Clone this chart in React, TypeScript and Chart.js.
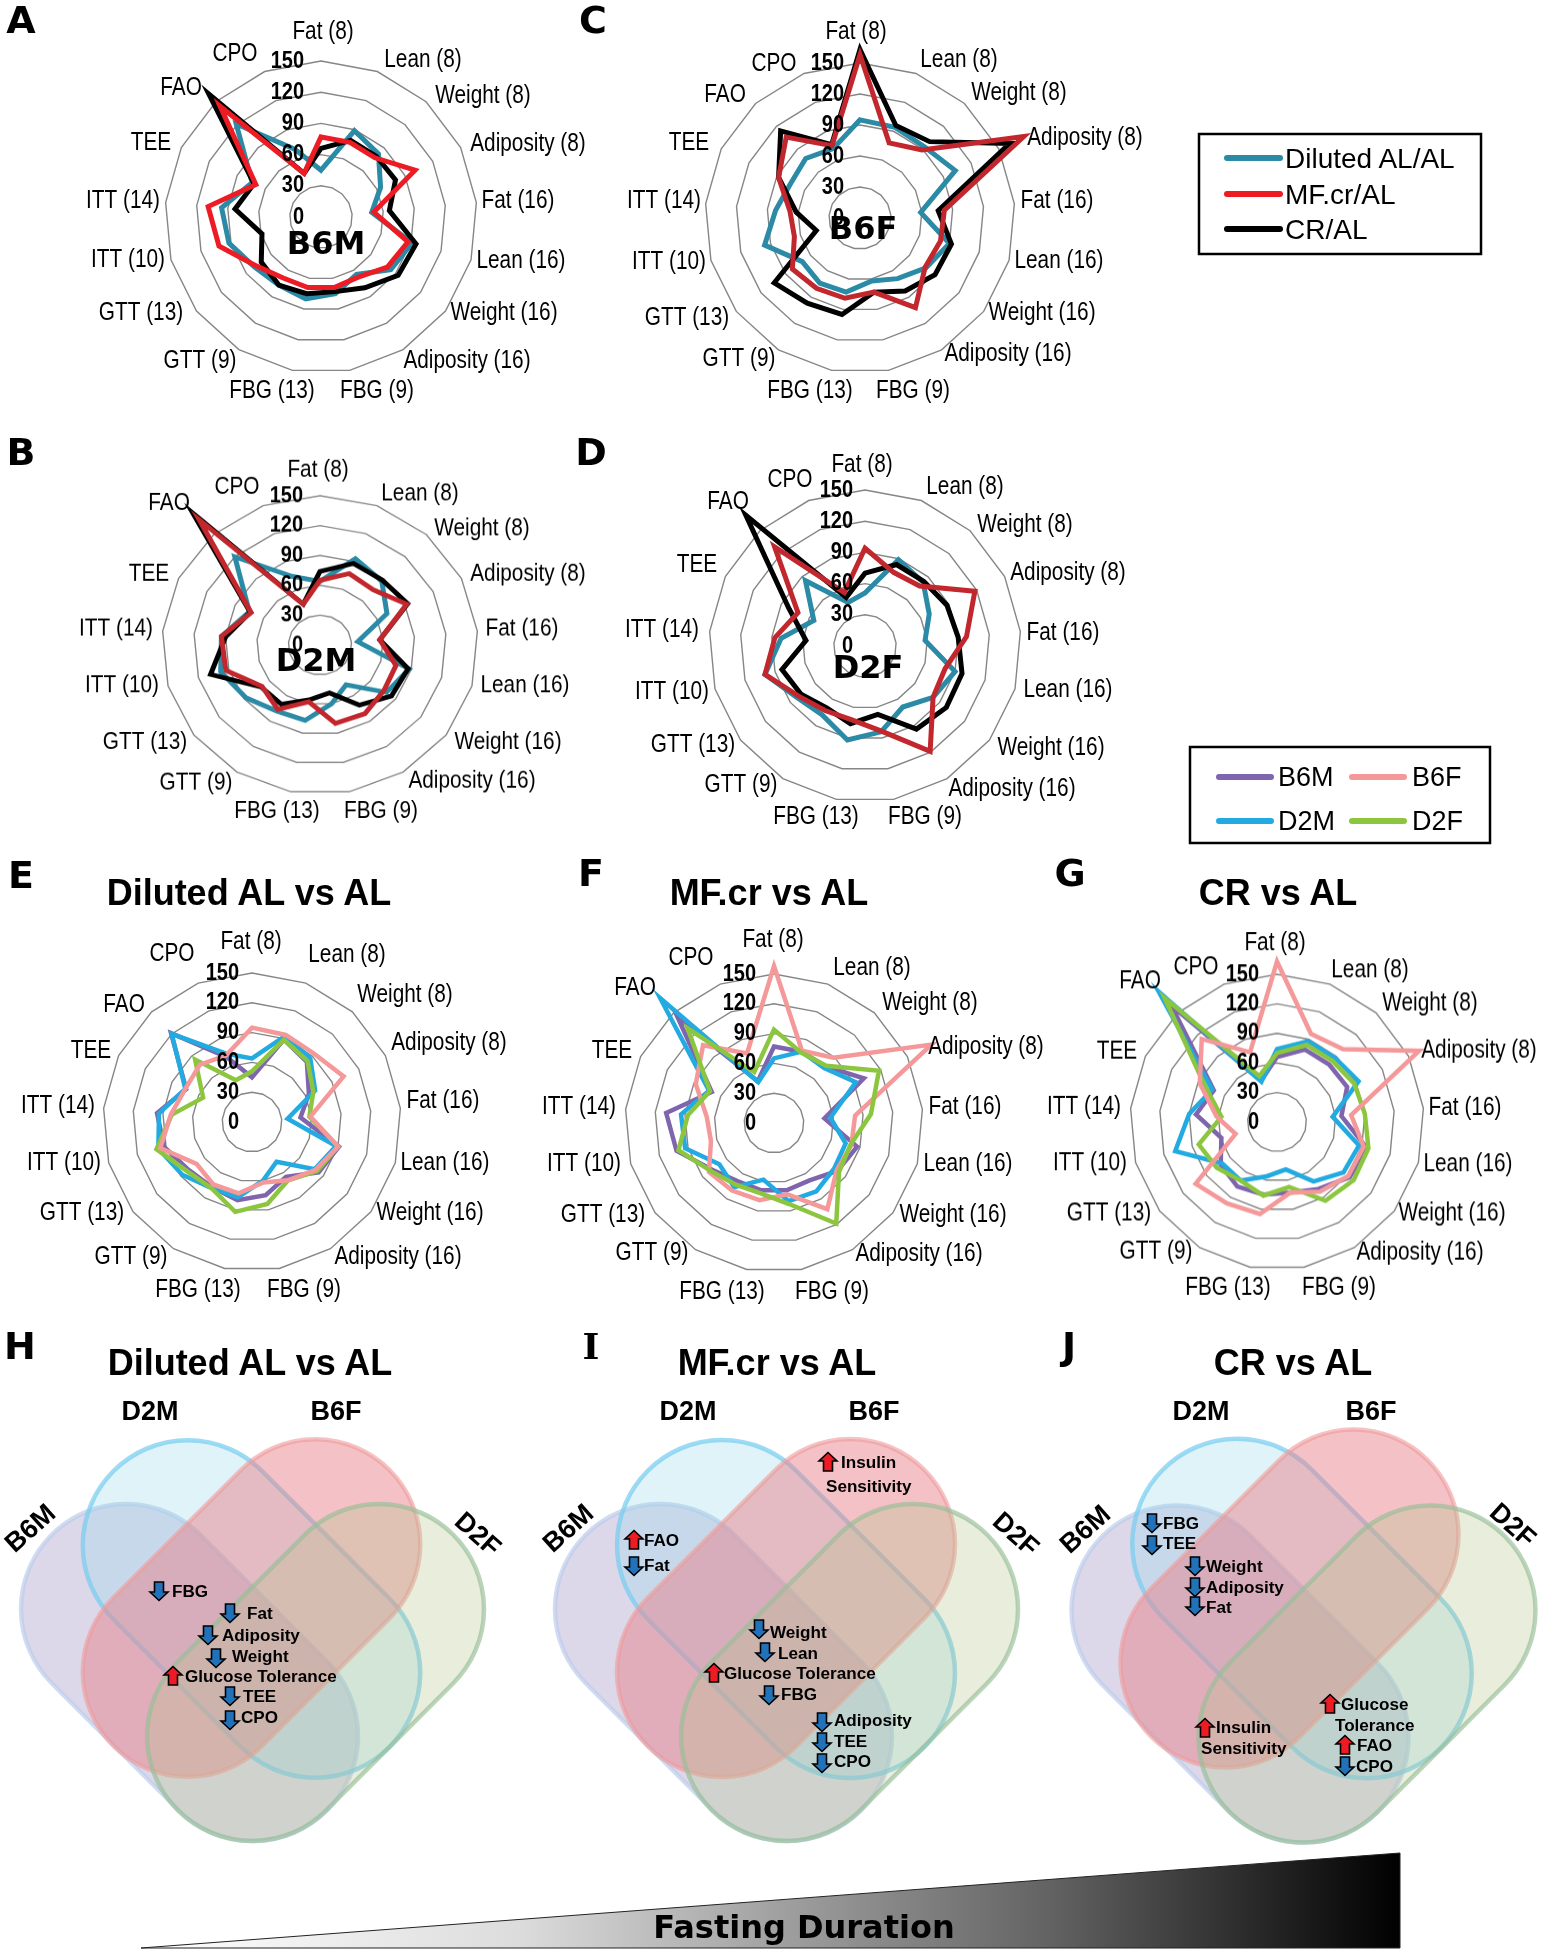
import React, { useEffect, useRef } from "react";
import { Chart, registerables } from "chart.js";

Chart.register(...registerables);

const categories = ["Fat (8)", "Lean (8)", "Weight (8)", "Adiposity (8)", "Fat (16)", "Lean (16)", "Weight (16)", "Adiposity (16)", "FBG (9)", "FBG (13)", "GTT (9)", "GTT (13)", "ITT (10)", "ITT (14)", "TEE", "FAO", "CPO"];
const tickValues = [0, 30, 60, 90, 120, 150];

const dilutedB6M = [45, 89, 82, 64, 49, 91, 84, 65, 75, 80, 77, 80, 92, 96, 74, 121, 70];
const mfB6M = [77, 77, 77, 101, 51, 87, 80, 68, 69, 69, 69, 78, 102, 109, 70, 144, 45];
const crB6M = [66, 79, 79, 80, 66, 95, 93, 80, 73, 75, 77, 72, 59, 83, 72, 160, 45];

const dilutedB6F = [95, 94, 93, 103, 59, 90, 80, 69, 62, 73, 74, 70, 96, 82, 75, 78, 72];
const mfB6F = [158, 78, 89, 177, 82, 81, 79, 102, 73, 79, 80, 82, 66, 68, 88, 106, 75];
const crB6F = [163, 96, 100, 162, 76, 92, 91, 83, 73, 95, 97, 104, 44, 62, 88, 114, 76];

const dilutedD2M = [64, 93, 87, 71, 36, 88, 79, 47, 60, 77, 78, 88, 98, 94, 75, 120, 74];
const mfD2M = [65, 77, 75, 92, 57, 75, 76, 81, 80, 58, 76, 69, 93, 94, 73, 170, 44];
const crD2M = [74, 88, 88, 93, 57, 87, 85, 71, 49, 56, 70, 70, 108, 90, 74, 179, 44];

const dilutedD2F = [51, 89, 83, 69, 58, 90, 82, 69, 84, 92, 78, 82, 100, 81, 55, 85, 45];
const mfD2F = [94, 76, 78, 118, 98, 80, 82, 119, 83, 72, 73, 80, 100, 87, 72, 129, 55];
const crD2F = [70, 84, 84, 88, 90, 97, 98, 94, 67, 76, 70, 77, 83, 57, 82, 170, 50];

const TEAL = "#2b8aa5", RED_A = "#ed1c24", RED = "#c1272d", BLACK = "#000000";
const PURPLE = "#7f65ad", PINK = "#f4989a", BLUE = "#22aae1", GREEN = "#8cc63f";

type Series = { label: string; data: number[]; color: string };
type Panel = {
  key: string; cx: number; cy: number; r: number; sy: number; tickDx: number; lineWidth: number;
  series: Series[]; labelAt: number[][];
};

// Label centres on the page, in the order of `categories`.
const labelsA = [[323, 32], [423, 60], [483, 96], [528, 144], [518, 201], [521, 261], [504, 313], [467, 361], [377, 391], [272, 391], [200, 361], [141, 313], [128, 260], [123, 201], [151, 143], [181, 88], [235, 54]];
const labelsC = [[856, 32], [959, 60], [1019, 93], [1085, 138], [1057, 201], [1059, 261], [1042, 313], [1008, 354], [913, 391], [810, 391], [739, 359], [687, 318], [669, 262], [664, 201], [689, 143], [725, 95], [774, 64]];
const labelsB = [[318, 470], [420, 494], [482, 529], [528, 574], [522, 629], [525, 686], [508, 742], [472, 781], [381, 811], [277, 811], [196, 783], [145, 742], [122, 686], [116, 629], [149, 574], [169, 503], [237, 487]];
const labelsD = [[862, 465], [965, 487], [1025, 525], [1068, 573], [1063, 633], [1068, 690], [1051, 748], [1012, 789], [925, 817], [816, 817], [741, 785], [693, 745], [672, 692], [662, 630], [697, 565], [728, 502], [790, 480]];
const labelsE = [[251, 942], [347, 955], [405, 995], [449, 1043], [443, 1101], [445, 1163], [430, 1213], [398, 1257], [304, 1290], [198, 1290], [131, 1257], [82, 1213], [64, 1163], [58, 1106], [91, 1051], [124, 1005], [172, 954]];
const labelsF = [[773, 940], [872, 968], [930, 1003], [986, 1047], [965, 1107], [968, 1164], [953, 1215], [919, 1254], [832, 1292], [722, 1292], [652, 1253], [603, 1215], [584, 1164], [579, 1107], [612, 1051], [635, 988], [691, 958]];
const labelsG = [[1275, 943], [1370, 970], [1430, 1004], [1479, 1051], [1465, 1108], [1468, 1164], [1452, 1214], [1420, 1253], [1339, 1288], [1228, 1288], [1156, 1252], [1109, 1214], [1090, 1163], [1084, 1107], [1117, 1052], [1140, 981], [1196, 967]];

const trio = (d: number[], c: number[], m: number[], mc: string): Series[] => [
  { label: "Diluted AL/AL", data: d, color: TEAL },
  { label: "CR/AL", data: c, color: BLACK },
  { label: "MF.cr/AL", data: m, color: mc },
];

const panels: Panel[] = [
  { key: "A", cx: 321, cy: 217, r: 156, sy: 1, tickDx: -17, lineWidth: 5, series: trio(dilutedB6M, crB6M, mfB6M, RED_A), labelAt: labelsA },
  { key: "C", cx: 860, cy: 218, r: 155, sy: 1, tickDx: -16, lineWidth: 5, series: trio(dilutedB6F, crB6F, mfB6F, RED), labelAt: labelsC },
  { key: "B", cx: 320, cy: 645, r: 158, sy: 0.945, tickDx: -17, lineWidth: 5, series: trio(dilutedD2M, crD2M, mfD2M, RED), labelAt: labelsB },
  { key: "D", cx: 865, cy: 646, r: 156, sy: 1, tickDx: -12, lineWidth: 5, series: trio(dilutedD2F, crD2F, mfD2F, RED), labelAt: labelsD },
  { key: "E", cx: 252, cy: 1122, r: 149, sy: 1, tickDx: -13, lineWidth: 4.5, labelAt: labelsE, series: [
    { label: "B6M", data: dilutedB6M, color: PURPLE }, { label: "D2M", data: dilutedD2M, color: BLUE },
    { label: "D2F", data: dilutedD2F, color: GREEN }, { label: "B6F", data: dilutedB6F, color: PINK } ] },
  { key: "F", cx: 774, cy: 1123, r: 149, sy: 1, tickDx: -18, lineWidth: 4.5, labelAt: labelsF, series: [
    { label: "B6M", data: mfB6M, color: PURPLE }, { label: "D2M", data: mfD2M, color: BLUE },
    { label: "B6F", data: mfB6F, color: PINK }, { label: "D2F", data: mfD2F, color: GREEN } ] },
  { key: "G", cx: 1277, cy: 1122, r: 147, sy: 1.005, tickDx: -18, lineWidth: 4.5, labelAt: labelsG, series: [
    { label: "B6M", data: crB6M, color: PURPLE }, { label: "D2M", data: crD2M, color: BLUE },
    { label: "D2F", data: crD2F, color: GREEN }, { label: "B6F", data: crB6F, color: PINK } ] },
];

const HALF = 290;
const TEXT_STRETCH = 1.2;

function stretchedText(ctx: CanvasRenderingContext2D, text: string, x: number, y: number) {
  ctx.save();
  ctx.translate(x, y);
  ctx.scale(1, TEXT_STRETCH);
  ctx.fillText(text, 0, 0);
  ctx.restore();
}

function Radar({ p }: { p: Panel }) {
  const ref = useRef<HTMLCanvasElement>(null);
  useEffect(() => {
    const left = p.cx - HALF;
    const textPlugin = {
      id: "radarText",
      afterDatasetsDraw(chart: any) {
        const { ctx } = chart;
        const scale = chart.scales.r;
        ctx.save();
        ctx.fillStyle = "#000";
        ctx.textBaseline = "middle";
        ctx.font = "bold 20px 'Liberation Sans'";
        ctx.textAlign = "right";
        tickValues.forEach((v) => {
          const y = scale.getPointPositionForValue(0, v).y;
          stretchedText(ctx, String(v), scale.xCenter + p.tickDx, y);
        });
        ctx.font = "20.8px 'Liberation Sans'";
        ctx.textAlign = "center";
        categories.forEach((c, i) => {
          const [ax, ay] = p.labelAt[i];
          stretchedText(ctx, c, ax - left, HALF + (ay - p.cy) / p.sy);
        });
        ctx.restore();
      },
    };
    const chart = new Chart(ref.current!, {
      type: "radar",
      data: {
        labels: categories,
        datasets: [...p.series].reverse().map((s) => ({
          label: s.label,
          data: s.data,
          borderColor: s.color,
          backgroundColor: "transparent",
          borderWidth: p.lineWidth,
          borderJoinStyle: "miter" as const,
          pointRadius: 0,
          tension: 0,
          fill: false,
          clip: false as any,
        })),
      },
      options: {
        animation: false,
        responsive: false,
        maintainAspectRatio: false,
        layout: { padding: HALF - p.r },
        plugins: { legend: { display: false }, tooltip: { enabled: false } },
        scales: {
          r: {
            min: 0,
            max: 150,
            ticks: { display: false, stepSize: 30 },
            grid: { color: "#868686", lineWidth: 1.4 },
            angleLines: { display: false },
            pointLabels: { display: false },
          },
        },
      },
      plugins: [textPlugin],
    } as any);
    return () => chart.destroy();
  }, [p]);
  return (
    <div style={{ position: "absolute", left: p.cx - HALF, top: p.cy - HALF, width: HALF * 2, height: HALF * 2, transform: `scaleY(${p.sy})`, transformOrigin: "center center" }}>
      <canvas ref={ref} width={HALF * 2} height={HALF * 2} />
    </div>
  );
}

const SANS = "'Liberation Sans', Arial, sans-serif";
const DEJA = "'DejaVu Sans', sans-serif";

const panelLetters: [string, number, number][] = [
  ["A", 21, 20], ["C", 593, 20], ["B", 21, 452], ["D", 591, 452], ["E", 21, 875], ["F", 591, 873], ["G", 1070, 873], ["H", 20, 1346], ["J", 1069, 1346],
];
const centreNames: [string, number, number][] = [["B6M", 326, 243], ["B6F", 863, 228], ["D2M", 316, 660], ["D2F", 868, 667]];
const titles: [string, number, number][] = [
  ["Diluted AL vs AL", 249, 892], ["MF.cr vs AL", 769, 892], ["CR vs AL", 1278, 892],
  ["Diluted AL vs AL", 250, 1362], ["MF.cr vs AL", 777, 1362], ["CR vs AL", 1293, 1362],
];

type Box = [number, number, number, number];
type Venn = { b6m: Box; d2m: Box; b6f: Box; d2f: Box; names: [string, number, number, number][] };
const venns: Venn[] = [
  { b6m: [19, 1502, 360, 1843], d2m: [81, 1438, 422, 1780], b6f: [81, 1437, 422, 1779], d2f: [145, 1502, 486, 1843],
    names: [["D2M", 150, 1411, 0], ["B6F", 336, 1411, 0], ["B6M", 30, 1528, -42], ["D2F", 478, 1534, 42]] },
  { b6m: [553, 1502, 894, 1843], d2m: [615, 1438, 957, 1780], b6f: [615, 1437, 957, 1779], d2f: [679, 1502, 1020, 1843],
    names: [["D2M", 688, 1411, 0], ["B6F", 874, 1411, 0], ["B6M", 568, 1528, -42], ["D2F", 1016, 1534, 42]] },
  { b6m: [1070, 1503, 1410, 1845], d2m: [1132, 1435, 1472, 1782], b6f: [1119, 1427, 1460, 1770], d2f: [1197, 1503, 1537, 1845],
    names: [["D2M", 1201, 1411, 0], ["B6F", 1371, 1411, 0], ["B6M", 1085, 1529, -42], ["D2F", 1513, 1525, 42]] },
];

// [text, text left, text y, arrow: 1 up / -1 down / 0 none, arrow x, arrow y]
const findings: [string, number, number, number, number, number][] = [
  ["FBG", 172, 1591, -1, 159, 1591], ["Fat", 247, 1613, -1, 230, 1613], ["Adiposity", 222, 1635, -1, 208, 1635],
  ["Weight", 232, 1656, -1, 216, 1658], ["Glucose Tolerance", 185, 1676, 1, 173, 1676], ["TEE", 243, 1696, -1, 230, 1696], ["CPO", 241, 1717, -1, 230, 1720],
  ["Insulin", 841, 1462, 1, 828, 1462], ["Sensitivity", 826, 1486, 0, 0, 0], ["FAO", 644, 1540, 1, 634, 1540], ["Fat", 644, 1565, -1, 634, 1566],
  ["Weight", 770, 1632, -1, 759, 1629], ["Lean", 778, 1653, -1, 765, 1652], ["Glucose Tolerance", 724, 1673, 1, 714, 1673], ["FBG", 781, 1694, -1, 769, 1695],
  ["Adiposity", 834, 1720, -1, 822, 1722], ["TEE", 834, 1741, -1, 822, 1742], ["CPO", 834, 1761, -1, 822, 1763],
  ["FBG", 1163, 1523, -1, 1152, 1523], ["TEE", 1163, 1543, -1, 1152, 1545], ["Weight", 1206, 1566, -1, 1195, 1566], ["Adiposity", 1206, 1587, -1, 1195, 1587], ["Fat", 1206, 1607, -1, 1195, 1606],
  ["Insulin", 1216, 1727, 1, 1205, 1728], ["Sensitivity", 1201, 1748, 0, 0, 0], ["Glucose", 1341, 1704, 1, 1330, 1704], ["Tolerance", 1335, 1725, 0, 0, 0], ["FAO", 1357, 1745, 1, 1345, 1745], ["CPO", 1356, 1766, -1, 1345, 1766],
];

function Stadium({ box, slash, fill, stroke }: { box: Box; slash: boolean; fill: string; stroke: string }) {
  const [x0, y0, x1, y1] = box;
  const r = 105;
  const size = (x1 - x0 + y1 - y0) / 2;
  const len = (size - 2 * 107) * Math.SQRT2 + 2 * r;
  const cx = (x0 + x1) / 2, cy = (y0 + y1) / 2;
  return (
    <rect x={cx - len / 2} y={cy - r} width={len} height={2 * r} rx={r} ry={r} fill={fill} stroke={stroke} strokeWidth={4.5}
      transform={`rotate(${slash ? -45 : 45} ${cx} ${cy})`} />
  );
}

function Arrow({ x, y, up }: { x: number; y: number; up: boolean }) {
  const s = up ? -1 : 1;
  const d = `M${x - 4.5} ${y - 9 * s} L${x + 4.5} ${y - 9 * s} L${x + 4.5} ${y + 1 * s} L${x + 9} ${y + 1 * s} L${x} ${y + 9.5 * s} L${x - 9} ${y + 1 * s} L${x - 4.5} ${y + 1 * s} Z`;
  return <path d={d} fill={up ? "#ed1c24" : "#2272b9"} stroke="#000" strokeWidth={1.6} strokeLinejoin="miter" />;
}

function Overlay() {
  return (
    <svg width={1546} height={1950} style={{ position: "absolute", left: 0, top: 0, pointerEvents: "none" }}>
      <defs>
        <linearGradient id="fast" x1="141" x2="1400" y1="0" y2="0" gradientUnits="userSpaceOnUse">
          <stop offset="0" stopColor="#ffffff" />
          <stop offset="0.3" stopColor="#dcdcdc" />
          <stop offset="0.72" stopColor="#636363" />
          <stop offset="1" stopColor="#000000" />
        </linearGradient>
      </defs>

      {panelLetters.map(([t, x, y]) => (
        <text key={t} x={x} y={y} fontFamily={DEJA} fontWeight="bold" fontSize={38} textAnchor="middle" dominantBaseline="central" fill="#000">{t}</text>
      ))}
      <text x={591} y={1346} fontFamily="'DejaVu Serif', serif" fontWeight="bold" fontSize={36} textAnchor="middle" dominantBaseline="central" fill="#000">I</text>

      {centreNames.map(([t, x, y]) => (
        <text key={t} x={x} y={y} fontFamily={DEJA} fontWeight="bold" fontSize={32} textAnchor="middle" dominantBaseline="central" fill="#000">{t}</text>
      ))}
      {titles.map(([t, x, y], i) => (
        <text key={i} x={x} y={y} fontFamily={SANS} fontWeight="bold" fontSize={36} textAnchor="middle" dominantBaseline="central" fill="#000">{t}</text>
      ))}

      <rect x={1199} y={134} width={282} height={120} fill="#fff" stroke="#000" strokeWidth={2.5} />
      {[["Diluted AL/AL", TEAL, 158], ["MF.cr/AL", RED_A, 194], ["CR/AL", BLACK, 229]].map(([t, c, y]) => (
        <g key={t as string}>
          <line x1={1227} x2={1280} y1={y as number} y2={y as number} stroke={c as string} strokeWidth={6} strokeLinecap="round" />
          <text x={1285} y={y as number} fontFamily={SANS} fontSize={28} dominantBaseline="central" fill="#000">{t}</text>
        </g>
      ))}

      <rect x={1190} y={747} width={300} height={96} fill="#fff" stroke="#000" strokeWidth={2.5} />
      {[["B6M", PURPLE, 1219, 1278, 777], ["B6F", PINK, 1352, 1412, 777], ["D2M", BLUE, 1219, 1278, 821], ["D2F", GREEN, 1352, 1412, 821]].map(([t, c, lx, tx, y]) => (
        <g key={t as string}>
          <line x1={lx as number} x2={(lx as number) + 52} y1={y as number} y2={y as number} stroke={c as string} strokeWidth={6} strokeLinecap="round" />
          <text x={tx as number} y={y as number} fontFamily={SANS} fontSize={27} dominantBaseline="central" fill="#000">{t}</text>
        </g>
      ))}

      {venns.map((v, i) => (
        <g key={i}>
          <Stadium box={v.b6m} slash={false} fill="rgba(167,157,202,0.4)" stroke="rgba(190,205,235,0.7)" />
          <Stadium box={v.d2m} slash={false} fill="rgba(148,215,232,0.3)" stroke="rgba(120,205,240,0.72)" />
          <Stadium box={v.b6f} slash={true} fill="rgba(233,131,141,0.5)" stroke="rgba(238,155,155,0.6)" />
          <Stadium box={v.d2f} slash={true} fill="rgba(178,195,138,0.3)" stroke="rgba(150,190,150,0.65)" />
          {v.names.map(([t, x, y, rot]) => (
            <text key={t} x={x} y={y} fontFamily={SANS} fontWeight="bold" fontSize={27} textAnchor="middle" dominantBaseline="central" fill="#000" transform={`rotate(${rot} ${x} ${y})`}>{t}</text>
          ))}
        </g>
      ))}

      {findings.map(([t, x, y, dir, ax, ay], i) => (
        <g key={i}>
          {dir !== 0 && <Arrow x={ax} y={ay} up={dir > 0} />}
          <text x={x} y={y} fontFamily={SANS} fontWeight="bold" fontSize={17.1} dominantBaseline="central" fill="#000">{t}</text>
        </g>
      ))}

      <polygon points="141,1948 1400,1853 1400,1948" fill="url(#fast)" stroke="#222" strokeWidth={1} />
      <text x={804} y={1927} fontFamily={DEJA} fontWeight="bold" fontSize={32} textAnchor="middle" dominantBaseline="central" fill="#000">Fasting Duration</text>
    </svg>
  );
}

export default function App() {
  return (
    <div style={{ position: "absolute", left: 0, top: 0, width: 1546, height: 1950, overflow: "hidden", background: "#fff" }}>
      {panels.map((p) => <Radar key={p.key} p={p} />)}
      <Overlay />
    </div>
  );
}
